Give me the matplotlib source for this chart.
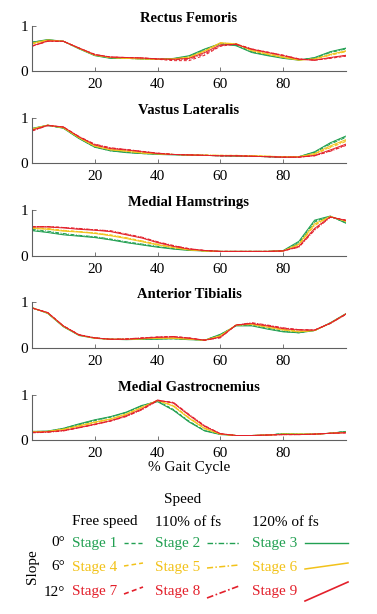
import matplotlib
matplotlib.use('Agg')
import matplotlib.pyplot as plt
from matplotlib.lines import Line2D
import numpy as np

plt.rcParams['font.family'] = ['Liberation Serif', 'DejaVu Serif']

# % gait cycle sample points
gait = list(range(0, 101, 5))

muscles = ['Rectus Femoris', 'Vastus Lateralis', 'Medial Hamstrings',
           'Anterior Tibialis', 'Medial Gastrocnemius']
stages = ['Stage 1', 'Stage 2', 'Stage 3', 'Stage 4', 'Stage 5',
          'Stage 6', 'Stage 7', 'Stage 8', 'Stage 9']
speeds = ['Free speed', '110% of fs', '120% of fs']
slopes = ['0°', '6°', '12°']

# normalised EMG envelopes, one row per stage (1..9)
rf = [
    [0.64, 0.69, 0.66, 0.50, 0.35, 0.29, 0.28, 0.27, 0.26, 0.27, 0.33, 0.48, 0.60, 0.57, 0.42, 0.35, 0.29, 0.25, 0.29, 0.42, 0.50],
    [0.63, 0.69, 0.66, 0.50, 0.35, 0.29, 0.28, 0.27, 0.26, 0.27, 0.32, 0.47, 0.61, 0.58, 0.43, 0.36, 0.30, 0.25, 0.28, 0.41, 0.49],
    [0.64, 0.70, 0.66, 0.49, 0.34, 0.28, 0.28, 0.27, 0.26, 0.28, 0.34, 0.49, 0.61, 0.56, 0.41, 0.34, 0.28, 0.24, 0.30, 0.43, 0.51],
    [0.61, 0.68, 0.66, 0.50, 0.36, 0.30, 0.28, 0.27, 0.26, 0.26, 0.30, 0.44, 0.62, 0.60, 0.46, 0.38, 0.31, 0.25, 0.26, 0.36, 0.44],
    [0.60, 0.68, 0.66, 0.51, 0.36, 0.30, 0.29, 0.28, 0.26, 0.26, 0.29, 0.43, 0.62, 0.61, 0.47, 0.39, 0.32, 0.25, 0.26, 0.35, 0.43],
    [0.62, 0.69, 0.66, 0.50, 0.35, 0.30, 0.28, 0.27, 0.26, 0.27, 0.31, 0.45, 0.63, 0.60, 0.45, 0.37, 0.30, 0.24, 0.27, 0.37, 0.45],
    [0.55, 0.66, 0.66, 0.51, 0.37, 0.31, 0.30, 0.29, 0.26, 0.23, 0.23, 0.35, 0.55, 0.60, 0.49, 0.42, 0.35, 0.27, 0.24, 0.28, 0.33],
    [0.55, 0.66, 0.66, 0.51, 0.37, 0.31, 0.30, 0.29, 0.27, 0.25, 0.26, 0.38, 0.56, 0.60, 0.49, 0.42, 0.35, 0.27, 0.24, 0.29, 0.34],
    [0.56, 0.67, 0.66, 0.51, 0.36, 0.31, 0.30, 0.29, 0.27, 0.26, 0.28, 0.41, 0.58, 0.59, 0.48, 0.41, 0.34, 0.26, 0.24, 0.30, 0.35],
]
vl = [
    [0.76, 0.84, 0.78, 0.55, 0.35, 0.27, 0.24, 0.21, 0.20, 0.19, 0.18, 0.17, 0.16, 0.16, 0.15, 0.14, 0.13, 0.14, 0.24, 0.44, 0.59],
    [0.75, 0.83, 0.78, 0.55, 0.36, 0.28, 0.24, 0.21, 0.20, 0.19, 0.18, 0.17, 0.16, 0.16, 0.15, 0.14, 0.13, 0.14, 0.23, 0.42, 0.57],
    [0.77, 0.84, 0.77, 0.54, 0.35, 0.27, 0.23, 0.21, 0.19, 0.18, 0.17, 0.17, 0.16, 0.15, 0.15, 0.14, 0.13, 0.14, 0.25, 0.45, 0.60],
    [0.75, 0.84, 0.79, 0.56, 0.38, 0.30, 0.27, 0.23, 0.21, 0.19, 0.18, 0.17, 0.17, 0.17, 0.16, 0.15, 0.14, 0.14, 0.20, 0.36, 0.50],
    [0.74, 0.84, 0.79, 0.57, 0.39, 0.31, 0.27, 0.23, 0.21, 0.19, 0.18, 0.18, 0.17, 0.17, 0.16, 0.15, 0.14, 0.14, 0.19, 0.34, 0.48],
    [0.76, 0.84, 0.78, 0.56, 0.37, 0.29, 0.26, 0.22, 0.20, 0.19, 0.18, 0.17, 0.17, 0.16, 0.16, 0.15, 0.14, 0.14, 0.21, 0.38, 0.52],
    [0.72, 0.83, 0.80, 0.58, 0.41, 0.33, 0.30, 0.26, 0.22, 0.19, 0.18, 0.17, 0.16, 0.16, 0.15, 0.14, 0.13, 0.13, 0.16, 0.27, 0.40],
    [0.71, 0.83, 0.80, 0.59, 0.42, 0.34, 0.30, 0.26, 0.22, 0.19, 0.18, 0.17, 0.16, 0.16, 0.15, 0.14, 0.13, 0.13, 0.16, 0.26, 0.39],
    [0.73, 0.84, 0.80, 0.58, 0.40, 0.32, 0.29, 0.25, 0.21, 0.19, 0.18, 0.17, 0.16, 0.16, 0.15, 0.14, 0.13, 0.13, 0.17, 0.29, 0.42],
]
mh = [
    [0.56, 0.52, 0.47, 0.44, 0.41, 0.36, 0.30, 0.25, 0.20, 0.16, 0.13, 0.11, 0.10, 0.10, 0.10, 0.10, 0.11, 0.30, 0.76, 0.86, 0.72],
    [0.58, 0.54, 0.49, 0.45, 0.42, 0.37, 0.31, 0.26, 0.21, 0.16, 0.13, 0.11, 0.10, 0.10, 0.10, 0.10, 0.11, 0.28, 0.74, 0.86, 0.73],
    [0.55, 0.51, 0.46, 0.43, 0.40, 0.35, 0.29, 0.24, 0.19, 0.15, 0.12, 0.11, 0.10, 0.10, 0.10, 0.10, 0.12, 0.32, 0.78, 0.87, 0.71],
    [0.61, 0.59, 0.55, 0.53, 0.50, 0.45, 0.39, 0.32, 0.25, 0.19, 0.14, 0.11, 0.10, 0.10, 0.10, 0.10, 0.11, 0.25, 0.68, 0.86, 0.76],
    [0.62, 0.60, 0.56, 0.53, 0.50, 0.46, 0.40, 0.33, 0.26, 0.19, 0.14, 0.11, 0.10, 0.10, 0.10, 0.10, 0.11, 0.24, 0.66, 0.86, 0.76],
    [0.60, 0.58, 0.54, 0.52, 0.49, 0.44, 0.38, 0.31, 0.24, 0.18, 0.13, 0.11, 0.10, 0.10, 0.10, 0.10, 0.11, 0.26, 0.70, 0.86, 0.75],
    [0.64, 0.64, 0.62, 0.59, 0.57, 0.54, 0.47, 0.40, 0.30, 0.22, 0.16, 0.12, 0.10, 0.10, 0.10, 0.10, 0.11, 0.20, 0.58, 0.85, 0.78],
    [0.64, 0.64, 0.62, 0.60, 0.57, 0.55, 0.48, 0.41, 0.31, 0.23, 0.16, 0.12, 0.10, 0.10, 0.10, 0.10, 0.11, 0.19, 0.56, 0.84, 0.78],
    [0.63, 0.63, 0.61, 0.58, 0.56, 0.53, 0.46, 0.39, 0.29, 0.21, 0.15, 0.12, 0.10, 0.10, 0.10, 0.10, 0.11, 0.21, 0.60, 0.85, 0.77],
]
at = [
    [0.87, 0.76, 0.47, 0.28, 0.22, 0.19, 0.19, 0.19, 0.20, 0.20, 0.19, 0.17, 0.29, 0.49, 0.49, 0.42, 0.36, 0.33, 0.38, 0.54, 0.74],
    [0.87, 0.76, 0.47, 0.28, 0.22, 0.19, 0.19, 0.19, 0.20, 0.21, 0.19, 0.17, 0.28, 0.49, 0.50, 0.43, 0.37, 0.34, 0.38, 0.54, 0.74],
    [0.88, 0.75, 0.46, 0.27, 0.21, 0.19, 0.18, 0.19, 0.19, 0.20, 0.18, 0.17, 0.30, 0.48, 0.48, 0.41, 0.35, 0.33, 0.38, 0.55, 0.75],
    [0.87, 0.76, 0.47, 0.28, 0.22, 0.19, 0.19, 0.20, 0.22, 0.22, 0.20, 0.17, 0.26, 0.50, 0.52, 0.46, 0.40, 0.36, 0.38, 0.54, 0.74],
    [0.87, 0.76, 0.48, 0.28, 0.22, 0.19, 0.19, 0.20, 0.22, 0.22, 0.20, 0.17, 0.25, 0.50, 0.52, 0.47, 0.41, 0.37, 0.38, 0.54, 0.74],
    [0.88, 0.76, 0.47, 0.28, 0.21, 0.19, 0.19, 0.20, 0.21, 0.21, 0.19, 0.17, 0.27, 0.50, 0.51, 0.45, 0.39, 0.35, 0.38, 0.54, 0.74],
    [0.87, 0.77, 0.48, 0.29, 0.22, 0.19, 0.19, 0.22, 0.24, 0.25, 0.22, 0.17, 0.23, 0.50, 0.54, 0.49, 0.43, 0.40, 0.39, 0.54, 0.74],
    [0.87, 0.77, 0.48, 0.29, 0.22, 0.19, 0.20, 0.22, 0.24, 0.25, 0.22, 0.17, 0.22, 0.50, 0.55, 0.50, 0.44, 0.40, 0.39, 0.53, 0.73],
    [0.87, 0.77, 0.48, 0.28, 0.22, 0.19, 0.19, 0.21, 0.23, 0.24, 0.21, 0.17, 0.24, 0.50, 0.53, 0.48, 0.42, 0.39, 0.39, 0.54, 0.74],
]
mg = [
    [0.19, 0.19, 0.26, 0.35, 0.44, 0.51, 0.61, 0.76, 0.87, 0.68, 0.42, 0.21, 0.13, 0.10, 0.10, 0.11, 0.14, 0.13, 0.13, 0.15, 0.19],
    [0.19, 0.19, 0.25, 0.34, 0.43, 0.51, 0.61, 0.76, 0.86, 0.67, 0.41, 0.21, 0.13, 0.10, 0.10, 0.11, 0.14, 0.13, 0.13, 0.15, 0.19],
    [0.19, 0.20, 0.26, 0.36, 0.45, 0.52, 0.62, 0.77, 0.85, 0.66, 0.40, 0.20, 0.12, 0.10, 0.10, 0.11, 0.14, 0.13, 0.13, 0.15, 0.19],
    [0.18, 0.19, 0.24, 0.31, 0.39, 0.46, 0.57, 0.72, 0.88, 0.76, 0.49, 0.26, 0.13, 0.10, 0.10, 0.11, 0.13, 0.13, 0.13, 0.15, 0.17],
    [0.18, 0.19, 0.23, 0.30, 0.38, 0.46, 0.56, 0.72, 0.88, 0.77, 0.50, 0.27, 0.13, 0.10, 0.10, 0.11, 0.13, 0.13, 0.13, 0.15, 0.17],
    [0.18, 0.19, 0.24, 0.32, 0.40, 0.47, 0.58, 0.73, 0.88, 0.75, 0.48, 0.25, 0.13, 0.10, 0.10, 0.11, 0.13, 0.13, 0.13, 0.15, 0.17],
    [0.17, 0.18, 0.21, 0.27, 0.35, 0.42, 0.53, 0.68, 0.88, 0.83, 0.56, 0.31, 0.14, 0.10, 0.10, 0.11, 0.12, 0.12, 0.13, 0.15, 0.16],
    [0.16, 0.17, 0.20, 0.27, 0.34, 0.42, 0.52, 0.67, 0.87, 0.84, 0.57, 0.32, 0.14, 0.10, 0.10, 0.11, 0.12, 0.12, 0.13, 0.15, 0.16],
    [0.17, 0.18, 0.21, 0.28, 0.35, 0.43, 0.54, 0.69, 0.89, 0.82, 0.55, 0.30, 0.14, 0.10, 0.10, 0.11, 0.12, 0.12, 0.13, 0.15, 0.16],
]
emg = [rf, vl, mh, at, mg]

# styles: colour per slope, dash per speed
slope_colors = ['#22a052', '#f2c21a', '#e3202b']
speed_dash = [(0, (3, 2)), (0, (4, 1.5, 1, 1.5)), '-']

W, H = 377., 614.
fig = plt.figure(figsize=(W / 100, H / 100), dpi=100)

# panel placement in pixels (top, bottom)
ax_left, ax_right = 32, 346
panel_px = [(26, 71), (118, 163), (210, 256), (302, 348), (395, 440)]
axis_col = '#606060'

for k, (name, data) in enumerate(zip(muscles, emg)):
    top, bot = panel_px[k]
    ax = fig.add_axes([ax_left / W, 1 - bot / H, (ax_right - ax_left) / W, (bot - top) / H])
    for i in range(9):
        ax.plot(gait, data[i], color=slope_colors[i // 3],
                linestyle=speed_dash[i % 3], linewidth=0.7)
    ax.set_xlim(0, 100)
    ax.set_ylim(0, 1)
    ax.set_xticks([20, 40, 60, 80])
    ax.set_yticks([0, 1])
    ax.set_yticklabels(['0', '1'])
    for s in ['top', 'right']:
        ax.spines[s].set_visible(False)
    for s in ['left', 'bottom']:
        ax.spines[s].set_color(axis_col)
        ax.spines[s].set_linewidth(0.8)
    ax.tick_params(direction='in', length=3, width=0.6, color=axis_col,
                   labelsize=11, labelcolor='black')
    ax.tick_params(axis='x', pad=5)
    ax.tick_params(axis='y', pad=3)
    ax.set_title(name, fontsize=10.5, fontweight='bold', pad=3)
    if k == len(muscles) - 1:
        ax.set_xlabel('% Gait Cycle', fontsize=11, labelpad=1)


def fx(px):
    return px / W


def fy(py):
    return 1 - py / H


# legend table
fig.text(fx(183), fy(500), 'Speed', ha='center', va='center', fontsize=11)
for j, lab in enumerate(speeds):
    fig.text(fx([105, 188, 285][j]), fy(522), lab, ha='center', va='center', fontsize=11)
fig.text(fx(33), fy(567), 'Slope', ha='center', va='center', rotation=90, fontsize=11)

row_y = [543, 567, 592]
col_x = [72, 155, 252]
# sample line geometry (pixels)
sample_x = [(124, 143), (207, 239), (305, 348)]
sample_y = [
    [(543, 543), (543, 543), (543, 543)],
    [(566, 563), (568, 565), (569, 563)],
    [(594, 587), (598, 586), (601, 582)],
]
for r in range(3):
    fig.text(fx(65), fy(row_y[r]), slopes[r], ha='right', va='center', fontsize=11)
    for c in range(3):
        idx = r * 3 + c
        col = slope_colors[r]
        fig.text(fx(col_x[c]), fy(row_y[r]), stages[idx], ha='left', va='center',
                 fontsize=11, color=col)
        x0, x1 = sample_x[c]
        y0, y1 = sample_y[r][c]
        fig.add_artist(Line2D([fx(x0), fx(x1)], [fy(y0), fy(y1)], color=col,
                              linestyle=speed_dash[c], linewidth=1.0 + 0.1 * r,
                              transform=fig.transFigure))

fig.savefig('out.png', dpi=100)
